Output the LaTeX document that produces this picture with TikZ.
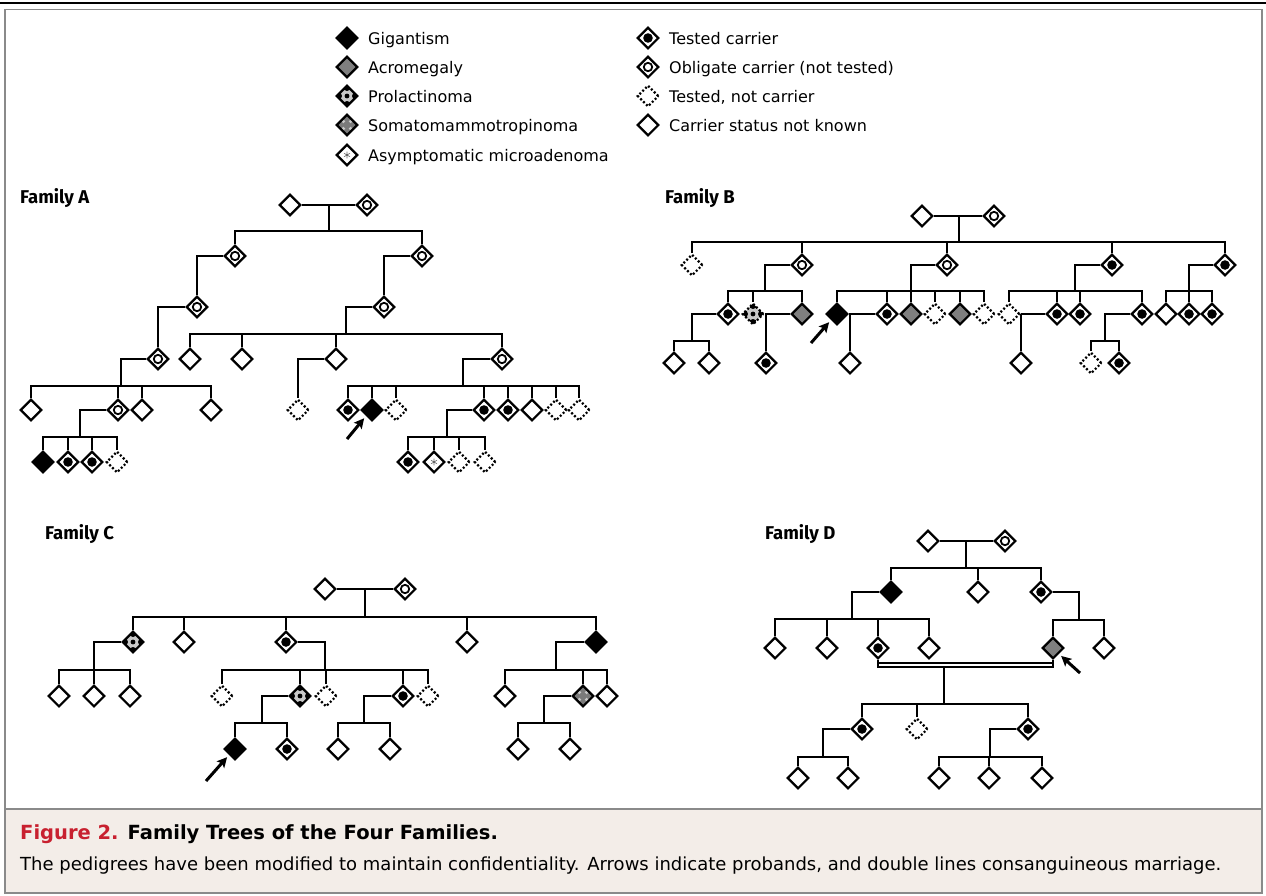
\documentclass[tikz,border=0pt]{standalone}
\usepackage{fontspec}
\setmainfont{DejaVu Sans}
\newfontfamily\firafont{Fira Sans}
\usetikzlibrary{shapes.geometric,arrows.meta,calc}
\definecolor{acro}{HTML}{7F7F7F}
\definecolor{capbg}{HTML}{F3EDE8}
\definecolor{framegray}{HTML}{8A8A8A}
\definecolor{figred}{HTML}{C8202F}
\definecolor{prlgray}{HTML}{C9C9C9}
\definecolor{somgray}{HTML}{7A7A7A}
\tikzset{
  ind/.style={shape=diamond, aspect=1, draw=black, line width=2.2pt, minimum size=21.5pt, inner sep=0pt, fill=white},
  unk/.style={ind},
  gig/.style={ind, fill=black},
  acr/.style={ind, fill=acro},
  tc/.style={ind, path picture={\fill[black] (path picture bounding box.center) circle (4.8pt);}},
  oc/.style={ind, path picture={\draw[black, line width=1.8pt] (path picture bounding box.center) circle (4.2pt);}},
  dotline/.style={dash pattern=on 2pt off 2.1pt},
  tnc/.style={ind, dotline},
  prl/.style={ind, fill=prlgray, path picture={
     \fill[black, shift={(path picture bounding box.center)}]
        (0,0) circle (2.4pt) (9pt,0) circle (4pt) (-9pt,0) circle (4pt) (0,9pt) circle (4pt) (0,-9pt) circle (4pt);}},
  prlt/.style={prl, dotline},
  som/.style={ind, fill=somgray, path picture={
     \fill[prlgray, shift={(path picture bounding box.center)}]
        (3.6pt,3.6pt) circle (1.9pt) (-3.6pt,3.6pt) circle (1.9pt) (3.6pt,-3.6pt) circle (1.9pt) (-3.6pt,-3.6pt) circle (1.9pt);}},
  mic/.style={ind, path picture={
     \draw[black!60, line width=0.6pt, shift={(path picture bounding box.center)}]
        (0,3.4pt) -- (0,-3.4pt) (2.9pt,1.7pt) -- (-2.9pt,-1.7pt) (2.9pt,-1.7pt) -- (-2.9pt,1.7pt);}},
  rel/.style={line width=1.3pt},
  proband/.style={line width=3pt, -{Stealth[length=10pt,width=10pt,inset=2pt]}, shorten >=3pt},
  legtext/.style={anchor=base west, inner sep=0pt, font=\fontsize{16}{19}\selectfont},
  famlabel/.style={anchor=base west, inner sep=0pt, font=\firafont\bfseries\fontsize{18.5}{22}\selectfont},
}
\begin{document}
\begin{tikzpicture}[x=1pt,y=-1pt]
\useasboundingbox (0,0) rectangle (1266,895);
% frame
\fill[capbg] (5,809) rectangle (1262,893);
\draw[framegray, line width=1.6pt] (5,9.5) rectangle (1262,893);
\draw[framegray, line width=1.6pt] (5,809) -- (1262,809);
\draw[black, line width=2.4pt] (0,3) -- (1266,3);

% legend
\node[gig] (lg1) at (347,38) {};
\node[acr] (lg2) at (347,67) {};
\node[prl] (lg3) at (347,96) {};
\node[som] (lg4) at (347,125) {};
\node[mic] (lg5) at (347,155) {};
\node[legtext] (lt1) at (368,44) {Gigantism};
\node[legtext] (lt2) at (368,73) {Acromegaly};
\node[legtext] (lt3) at (368,102) {Prolactinoma};
\node[legtext] (lt4) at (368,131) {Somatomammotropinoma};
\node[legtext] (lt5) at (368,161) {Asymptomatic microadenoma};
\node[tc] (lg6) at (648,38) {};
\node[oc] (lg7) at (648,67) {};
\node[tnc] (lg8) at (648,96) {};
\node[unk] (lg9) at (648,125) {};
\node[legtext] (lt6) at (669,44) {Tested carrier};
\node[legtext] (lt7) at (669,73) {Obligate carrier (not tested)};
\node[legtext] (lt8) at (669,102) {Tested, not carrier};
\node[legtext] (lt9) at (669,131) {Carrier status not known};

% family labels
\node[famlabel] (famA) at (20,203) {Family A};
\node[famlabel] (famB) at (665,203) {Family B};
\node[famlabel] (famC) at (45,539) {Family C};
\node[famlabel] (famD) at (765,539) {Family D};

% ================= Family A =================
\node[unk] (a1) at (290,205) {};
\node[oc] (a2) at (367,205) {};
\coordinate (aS1) at (329,231);
\node[oc] (a3) at (235,256) {};
\node[oc] (a4) at (422,256) {};
\node[oc] (a5) at (197,307) {};
\node[oc] (a6) at (384,307) {};
\node[oc] (a7) at (158,359) {};
\coordinate (aS2) at (346,334);
\node[unk] (a8) at (190,359) {};
\node[unk] (a9) at (242,359) {};
\node[unk] (a10) at (336,359) {};
\node[oc] (a11) at (502,359) {};
\coordinate (aS3) at (121,386);
\node[unk] (a12) at (31,410) {};
\node[oc] (a13) at (118,410) {};
\node[unk] (a14) at (142,410) {};
\node[unk] (a15) at (211,410) {};
\node[tnc] (a16) at (298,410) {};
\coordinate (aS4) at (463,386);
\node[tc] (a17) at (348,410) {};
\node[gig] (a18) at (372,410) {};
\node[tnc] (a19) at (396,410) {};
\node[tc] (a20) at (484,410) {};
\node[tc] (a21) at (508,410) {};
\node[unk] (a22) at (532,410) {};
\node[tnc] (a23) at (556,410) {};
\node[tnc] (a24) at (579,410) {};
\coordinate (aS5) at (80,437);
\node[gig] (a25) at (43,462) {};
\node[tc] (a26) at (68,462) {};
\node[tc] (a27) at (92,462) {};
\node[tnc] (a28) at (117,462) {};
\coordinate (aS6) at (447,437);
\node[tc] (a29) at (408,462) {};
\node[mic] (a30) at (434,462) {};
\node[tnc] (a31) at (459,462) {};
\node[tnc] (a32) at (485,462) {};
\coordinate (aArr) at (347,439);

\draw[rel] (a1.east) -- (a2.west);
\draw[rel] (aS1 |- a1.east) -- (aS1);
\foreach \c in {a3,a4} \draw[rel] (\c.north) |- (aS1);
\draw[rel] (a3.west) -| (a5.north);
\draw[rel] (a4.west) -| (a6.north);
\draw[rel] (a5.west) -| (a7.north);
\draw[rel] (a6.west) -| (aS2);
\foreach \c in {a8,a9,a10,a11} \draw[rel] (\c.north) |- (aS2);
\draw[rel] (a7.west) -| (aS3);
\foreach \c in {a12,a13,a14,a15} \draw[rel] (\c.north) |- (aS3);
\draw[rel] (a10.west) -| (a16.north);
\draw[rel] (a11.west) -| (aS4);
\foreach \c in {a17,a18,a19,a20,a21,a22,a23,a24} \draw[rel] (\c.north) |- (aS4);
\draw[rel] (a13.west) -| (aS5);
\foreach \c in {a25,a26,a27,a28} \draw[rel] (\c.north) |- (aS5);
\draw[rel] (a20.west) -| (aS6);
\foreach \c in {a29,a30,a31,a32} \draw[rel] (\c.north) |- (aS6);
\draw[proband] (aArr) -- (a18.south west);

% ================= Family B =================
\node[unk] (b1) at (922,216) {};
\node[oc] (b2) at (994,216) {};
\coordinate (bS1) at (959,242);
\node[tnc] (b3) at (692,265) {};
\node[oc] (b4) at (802,265) {};
\node[oc] (b5) at (947,265) {};
\node[tc] (b6) at (1112,265) {};
\node[tc] (b7) at (1225,265) {};
\coordinate (bS2) at (765,291);
\node[tc] (b8) at (728,314) {};
\node[prlt] (b9) at (753,314) {};
\node[acr] (b10) at (802,314) {};
\coordinate (bS3) at (692,341);
\node[unk] (b11) at (674,363) {};
\node[unk] (b12) at (709,363) {};
\node[tc] (b13) at (766,363) {};
\coordinate (bS4) at (911,291);
\node[gig] (b14) at (837,314) {};
\node[tc] (b15) at (887,314) {};
\node[acr] (b16) at (911,314) {};
\node[tnc] (b17) at (935,314) {};
\node[acr] (b18) at (960,314) {};
\node[tnc] (b19) at (984,314) {};
\node[unk] (b20) at (850,363) {};
\coordinate (bS5) at (1075,291);
\node[tnc] (b21) at (1009,314) {};
\node[tc] (b22) at (1057,314) {};
\node[tc] (b23) at (1080,314) {};
\node[tc] (b24) at (1142,314) {};
\node[unk] (b25) at (1021,363) {};
\coordinate (bS6) at (1105,341);
\node[tnc] (b26) at (1091,363) {};
\node[tc] (b27) at (1119,363) {};
\coordinate (bS7) at (1189,291);
\node[unk] (b28) at (1166,314) {};
\node[tc] (b29) at (1189,314) {};
\node[tc] (b30) at (1212,314) {};
\coordinate (bArr) at (811,343);

\draw[rel] (b1.east) -- (b2.west);
\draw[rel] (bS1 |- b1.east) -- (bS1);
\foreach \c in {b3,b4,b5,b6,b7} \draw[rel] (\c.north) |- (bS1);
\draw[rel] (b4.west) -| (bS2);
\foreach \c in {b8,b9,b10} \draw[rel] (\c.north) |- (bS2);
\draw[rel] (b8.west) -| (bS3);
\foreach \c in {b11,b12} \draw[rel] (\c.north) |- (bS3);
\draw[rel] (b9.east) -- (b10.west);
\draw[rel] (b13.north) |- (b9.east);
\draw[rel] (b5.west) -| (bS4);
\foreach \c in {b14,b15,b16,b17,b18,b19} \draw[rel] (\c.north) |- (bS4);
\draw[rel] (b14.east) -- (b15.west);
\draw[rel] (b20.north) |- (b14.east);
\draw[rel] (b6.west) -| (bS5);
\foreach \c in {b21,b22,b23,b24} \draw[rel] (\c.north) |- (bS5);
\draw[rel] (b21.east) -- (b22.west);
\draw[rel] (b25.north) |- (b21.east);
\draw[rel] (b24.west) -| (bS6);
\foreach \c in {b26,b27} \draw[rel] (\c.north) |- (bS6);
\draw[rel] (b7.west) -| (bS7);
\foreach \c in {b28,b29,b30} \draw[rel] (\c.north) |- (bS7);
\draw[proband] (bArr) -- (b14.south west);

% ================= Family C =================
\node[unk] (c1) at (325,589) {};
\node[oc] (c2) at (405,589) {};
\coordinate (cS1) at (365,617);
\node[prl] (c3) at (133,642) {};
\node[unk] (c4) at (184,642) {};
\node[tc] (c5) at (286,642) {};
\node[unk] (c6) at (467,642) {};
\node[gig] (c7) at (596,642) {};
\coordinate (cS2) at (94,670);
\node[unk] (c8) at (59,696) {};
\node[unk] (c9) at (94,696) {};
\node[unk] (c10) at (130,696) {};
\coordinate (cS3) at (325,670);
\node[tnc] (c11) at (222,696) {};
\node[prl] (c12) at (300,696) {};
\node[tnc] (c13) at (326,696) {};
\node[tc] (c14) at (403,696) {};
\node[tnc] (c15) at (428,696) {};
\coordinate (cS4) at (262,723);
\node[gig] (c16) at (235,749) {};
\node[tc] (c17) at (287,749) {};
\coordinate (cS5) at (364,723);
\node[unk] (c18) at (338,749) {};
\node[unk] (c19) at (390,749) {};
\coordinate (cS6) at (556,670);
\node[unk] (c20) at (505,696) {};
\node[som] (c21) at (583,696) {};
\node[unk] (c22) at (607,696) {};
\coordinate (cS7) at (544,723);
\node[unk] (c23) at (518,749) {};
\node[unk] (c24) at (570,749) {};
\coordinate (cArr) at (206,781);

\draw[rel] (c1.east) -- (c2.west);
\draw[rel] (cS1 |- c1.east) -- (cS1);
\foreach \c in {c3,c4,c5,c6,c7} \draw[rel] (\c.north) |- (cS1);
\draw[rel] (c3.west) -| (cS2);
\foreach \c in {c8,c9,c10} \draw[rel] (\c.north) |- (cS2);
\draw[rel] (c5.east) -| (cS3);
\foreach \c in {c11,c12,c13,c14,c15} \draw[rel] (\c.north) |- (cS3);
\draw[rel] (c12.west) -| (cS4);
\foreach \c in {c16,c17} \draw[rel] (\c.north) |- (cS4);
\draw[rel] (c14.west) -| (cS5);
\foreach \c in {c18,c19} \draw[rel] (\c.north) |- (cS5);
\draw[rel] (c7.west) -| (cS6);
\foreach \c in {c20,c21,c22} \draw[rel] (\c.north) |- (cS6);
\draw[rel] (c21.west) -| (cS7);
\foreach \c in {c23,c24} \draw[rel] (\c.north) |- (cS7);
\draw[proband] (cArr) -- (c16.south west);

% ================= Family D =================
\node[unk] (d1) at (928,541) {};
\node[oc] (d2) at (1005,541) {};
\coordinate (dS1) at (966,568);
\node[gig] (d3) at (891,592) {};
\node[unk] (d4) at (978,592) {};
\node[tc] (d5) at (1041,592) {};
\coordinate (dS2) at (852,619);
\node[unk] (d6) at (775,648) {};
\node[unk] (d7) at (827,648) {};
\node[tc] (d8) at (878,648) {};
\node[unk] (d9) at (929,648) {};
\coordinate (dS3) at (1079,620);
\node[acr] (d10) at (1053,648) {};
\node[unk] (d11) at (1104,648) {};
\coordinate (dL) at (878,663);
\coordinate (dR) at (1053,667);
\coordinate (dC) at (944,667);
\coordinate (dS4) at (944,704);
\node[tc] (d12) at (862,729) {};
\node[tnc] (d13) at (917,729) {};
\node[tc] (d14) at (1028,729) {};
\coordinate (dS5) at (823,757);
\node[unk] (d15) at (798,778) {};
\node[unk] (d16) at (848,778) {};
\coordinate (dS6) at (990,757);
\node[unk] (d17) at (939,778) {};
\node[unk] (d18) at (989,778) {};
\node[unk] (d19) at (1042,778) {};
\coordinate (dArr) at (1080,673);

\draw[rel] (d1.east) -- (d2.west);
\draw[rel] (dS1 |- d1.east) -- (dS1);
\foreach \c in {d3,d4,d5} \draw[rel] (\c.north) |- (dS1);
\draw[rel] (d3.west) -| (dS2);
\foreach \c in {d6,d7,d8,d9} \draw[rel] (\c.north) |- (dS2);
\draw[rel] (d5.east) -| (dS3);
\foreach \c in {d10,d11} \draw[rel] (\c.north) |- (dS3);
\draw[rel] (d8.south) -- (dL);
\draw[rel] (d10.south) -- (d10.south |- dL);
\draw[line width=1.1pt] (dL) rectangle (dR);
\draw[rel] (dC) -- (dS4);
\foreach \c in {d12,d13,d14} \draw[rel] (\c.north) |- (dS4);
\draw[rel] (d12.west) -| (dS5);
\foreach \c in {d15,d16} \draw[rel] (\c.north) |- (dS5);
\draw[rel] (d14.west) -| (dS6);
\foreach \c in {d17,d18,d19} \draw[rel] (\c.north) |- (dS6);
\draw[proband] (dArr) -- (d10.south east);

% caption
\node[anchor=base west, inner sep=0pt, font=\bfseries\fontsize{19.5}{23}\selectfont] (cap1) at (20,839) {\textcolor{figred}{Figure 2.} Family Trees of the Four Families.};
\node[anchor=base west, inner sep=0pt, font=\fontsize{18}{22}\selectfont] (cap2) at (20,870) {The pedigrees have been modified to maintain confidentiality. Arrows indicate probands, and double lines consanguineous marriage.};
\end{tikzpicture}
\end{document}
